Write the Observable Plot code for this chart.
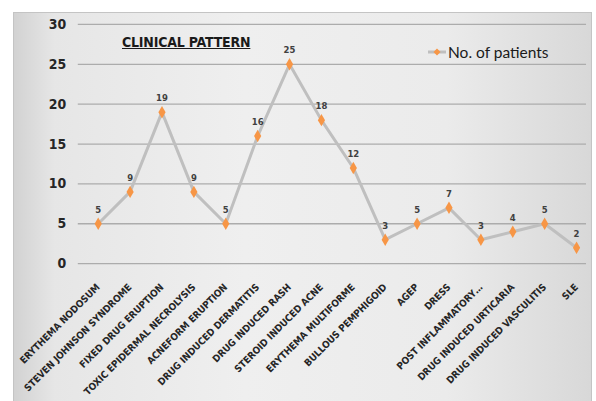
<!DOCTYPE html>
<html>
<head>
<meta charset="utf-8">
<script src="https://cdn.jsdelivr.net/npm/d3@7"></script>
<script src="https://cdn.jsdelivr.net/npm/@observablehq/plot@0.6"></script>
<style>
  html, body { margin: 0; padding: 0; background: #ffffff; width: 596px; height: 401px; overflow: hidden; }
  #frame {
    position: absolute; left: 13px; top: 12px; width: 579px; height: 392px;
    border: 1px solid #c4c4c4; box-sizing: border-box;
    background: linear-gradient(to right, #d2d2d2 0%, #e6e6e6 7%, #efefef 40%, #ebebeb 75%, #d8d8d8 100%);
    overflow: hidden;
  }
  #chart { position: absolute; left: 0; top: 0; }
  #title {
    position: absolute; left: 108px; top: 21px;
    font-family: "Liberation Sans Narrow", "DejaVu Sans Condensed", Lato, sans-serif;
    font-weight: bold; font-size: 14px; color: #1a1a1a; text-decoration: underline;
    letter-spacing: -0.2px;
  }
  #legend {
    position: absolute; left: 414px; top: 30px; display: flex; align-items: center;
    font-family: Lato, "Liberation Sans", sans-serif; font-size: 15.5px; color: #1a1a1a;
  }
  #legend svg { margin-right: 2px; }
</style>
</head>
<body>
<div id="frame">
  <div id="chart"></div>
  <div id="title">CLINICAL PATTERN</div>
  <div id="legend"><svg width="18" height="12"><line x1="0" y1="6" x2="18" y2="6" stroke="#bfbfbf" stroke-width="3"/><path d="M9,2.5 L12.5,6 L9,9.5 L5.5,6 Z" fill="#f79646"/></svg>No. of patients</div>
</div>
<script>
const categories = [
  "ERYTHEMA NODOSUM", "STEVEN JOHNSON SYNDROME", "FIXED DRUG ERUPTION",
  "TOXIC EPIDERMAL NECROLYSIS", "ACNEFORM ERUPTION", "DRUG INDUCED DERMATITIS",
  "DRUG INDUCED RASH", "STEROID INDUCED ACNE", "ERYTHEMA MULTIFORME",
  "BULLOUS PEMPHIGOID", "AGEP", "DRESS", "POST INFLAMMATORY…",
  "DRUG INDUCED URTICARIA", "DRUG INDUCED VASCULITIS", "SLE"
];
const patients = [5, 9, 19, 9, 5, 16, 25, 18, 12, 3, 5, 7, 3, 4, 5, 2];
const yTicks = [0, 5, 10, 15, 20, 25, 30];

const data = categories.map((c, i) => ({category: c, value: patients[i]}));

const chart = Plot.plot({
  width: 579,
  height: 392,
  marginTop: 11,
  marginBottom: 141,
  marginLeft: 64,
  marginRight: 5,
  style: {background: "transparent", color: "#262626"},
  x: {type: "point", domain: categories, range: [82, 565], padding: 0},
  y: {domain: [0, 30], ticks: yTicks},
  marks: [
    Plot.ruleY(yTicks, {stroke: "#acacac", strokeWidth: 1.3}),
    Plot.axisY({ticks: yTicks, tickSize: 0, tickPadding: 12, fontSize: 14, fontWeight: "bold",
      fontFamily: "Liberation Sans Narrow, DejaVu Sans Condensed, Liberation Sans, sans-serif", label: null}),
    Plot.axisX({tickRotate: -45, tickSize: 0, tickPadding: 22, dx: 0, fontSize: 9.8, fontWeight: "bold",
      fontFamily: "Liberation Sans Narrow, DejaVu Sans Condensed, Liberation Sans, sans-serif", label: null}),
    Plot.line(data, {x: "category", y: "value", stroke: "#bfbfbf", strokeWidth: 3}),
    Plot.dot(data, {x: "category", y: "value", symbol: "diamond", r: 3.8, fill: "#f79646", stroke: "none"}),
    Plot.text(data, {x: "category", y: "value", text: "value", dy: -14, fontSize: 9.5, fontWeight: "bold",
      fill: "#404040", fontFamily: "Liberation Sans Narrow, DejaVu Sans Condensed, sans-serif"})
  ]
});
document.getElementById("chart").appendChild(chart);
</script>
</body>
</html>
